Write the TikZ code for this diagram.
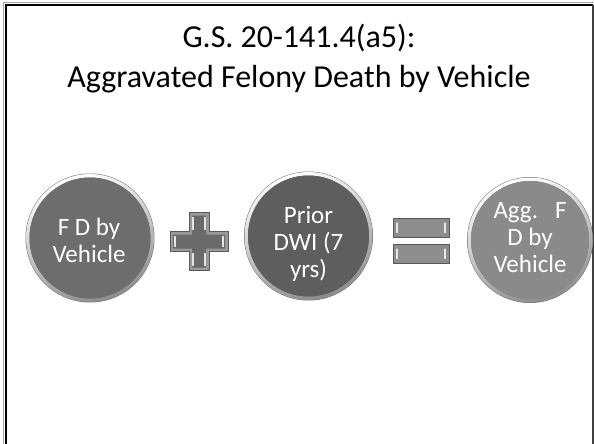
\documentclass[tikz,border=0pt]{standalone}
\usepackage{fontspec}
\setmainfont{Carlito}
\definecolor{discA}{RGB}{109,109,109}
\definecolor{discB}{RGB}{94,94,94}
\definecolor{discC}{RGB}{138,138,138}
\definecolor{plusfill}{RGB}{106,106,106}
\definecolor{eqfill}{RGB}{142,142,142}
\begin{document}
\begin{tikzpicture}[x=1pt,y=-1pt,
  bubbletext/.style={inner sep=0pt,text=white,align=center,anchor=base,
    font=\fontsize{25}{27}\selectfont},
  ring/.style={even odd rule,top color=white,bottom color=black!45,shading angle=20},
  signedge/.style={draw=black!65,line width=0.6pt},
  glint/.style={draw=white!90!black,line width=1.2pt,line cap=round}]
\useasboundingbox (0,0) rectangle (594,444);
\fill[white] (0,0) rectangle (594,444);

% slide frame (bottom edge runs off the page)
\draw[black!35,line width=1pt] (3.5,446) -- (3.5,2.8) -- (594,2.8);
\draw[black,line width=2.6pt] (5.8,446) -- (5.8,5) -- (592.5,5);
\draw[black!75,line width=1.3pt] (593,5) -- (593,446);

% title (anchored at the baseline of its last line)
\node[font=\fontsize{32}{40}\selectfont,align=center,anchor=base,inner sep=0pt]
  (title) at (299,88) {G.S. 20-141.4(a5):\\Aggravated Felony Death by Vehicle};

% discs
\coordinate (c1) at (90,238);
\coordinate (c2) at (308.5,236);
\coordinate (c3) at (530,240);

\fill[black!55] (c1) circle (64.5);
\shade[ring] (c1) circle (64) (c1) circle (60.5);
\fill[discA] (c1) circle (60.5);

\fill[black!55] (c2) circle (64.5);
\shade[ring] (c2) circle (64) (c2) circle (60.5);
\fill[discB] (c2) circle (60.5);

\fill[black!55] (c3) circle (63);
\shade[ring] (c3) circle (62.5) (c3) circle (59);
\fill[discC] (c3) circle (59);

% disc labels (anchored at the baseline of the last line)
\node[bubbletext] (a) at (89,262) {F D by\\Vehicle};
\node[bubbletext] (b) at (308.5,277) {Prior\\DWI (7\\yrs)};
\node[bubbletext] (c) at (530,272) {Agg.\ \ \ F\\D by\\Vehicle};

% plus sign
\coordinate (p) at (199,241.5);
\begin{scope}[shift={(p)}]
  \fill[black!40,signedge] (-10,-29) -- (10,-29) -- (10,-10) -- (29,-10) -- (29,10)
    -- (10,10) -- (10,29) -- (-10,29) -- (-10,10) -- (-29,10) -- (-29,-10)
    -- (-10,-10) -- cycle;
  \fill[plusfill] (-7,-26) -- (7,-26) -- (7,-7) -- (26,-7)
    -- (26,7) -- (7,7) -- (7,26) -- (-7,26) -- (-7,7) -- (-26,7) -- (-26,-7)
    -- (-7,-7) -- cycle;
  \draw[glint] (-6,-24) -- (-6,-12) (6,-24) -- (6,-12)
               (-6,12) -- (-6,24) (6,12) -- (6,24)
               (-24,-5) -- (-24,5) (24,-5) -- (24,5);
\end{scope}

% equals sign
\coordinate (e) at (421,241);
\begin{scope}[shift={(e)}]
  \foreach \yy in {-23,3}{
    \fill[black!45,signedge] (-28,\yy) rectangle (28,\yy+19.5);
    \fill[eqfill] (-25.5,\yy+2.5) rectangle (25.5,\yy+17);
    \draw[glint] (-24,\yy+5) -- (-24,\yy+14.5) (24,\yy+5) -- (24,\yy+14.5);
  }
\end{scope}
\end{tikzpicture}
\end{document}
